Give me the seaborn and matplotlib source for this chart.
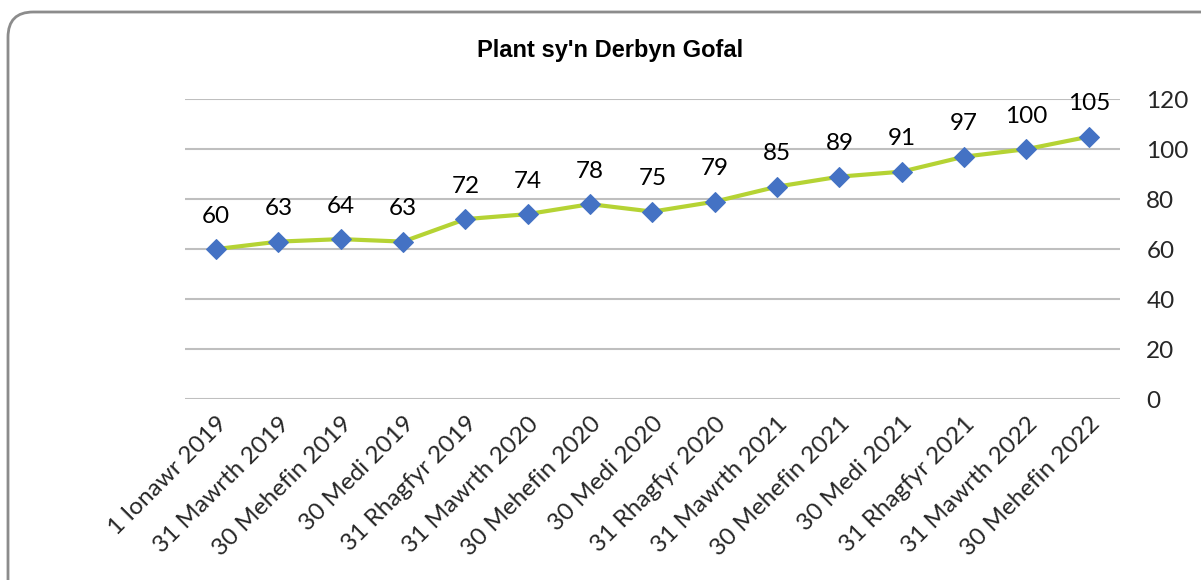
import matplotlib
matplotlib.use('Agg')
import matplotlib.pyplot as plt
from matplotlib.patches import FancyBboxPatch
import seaborn as sns
import pandas as pd

# Chart data
dates = ['1 Ionawr 2019', '31 Mawrth 2019', '30 Mehefin 2019', '30 Medi 2019',
         '31 Rhagfyr 2019', '31 Mawrth 2020', '30 Mehefin 2020', '30 Medi 2020',
         '31 Rhagfyr 2020', '31 Mawrth 2021', '30 Mehefin 2021', '30 Medi 2021',
         '31 Rhagfyr 2021', '31 Mawrth 2022', '30 Mehefin 2022']
children = [60, 63, 64, 63, 72, 74, 78, 75, 79, 85, 89, 91, 97, 100, 105]
y_ticks = [0, 20, 40, 60, 80, 100, 120]

df = pd.DataFrame({'pos': range(len(dates)), 'value': children})

sns.set_style('white')
plt.rcParams['font.family'] = ['Lato', 'DejaVu Sans']

fig = plt.figure(figsize=(12.01, 5.8), dpi=100)
ax = fig.add_axes([0.154, 0.312, 0.7785, 0.517])

# Rounded border of the chart area
border = FancyBboxPatch((8 / 1201, -0.05), 1.1, 1 - 12 / 580 + 0.05,
                        boxstyle='round,pad=0,rounding_size=0.021',
                        transform=fig.transFigure, fill=False,
                        edgecolor='#8c8c8c', linewidth=2, mutation_aspect=2.07)
fig.patches.append(border)

sns.lineplot(data=df, x='pos', y='value', ax=ax, color='#b5d334', linewidth=3,
             marker='D', markersize=10, markerfacecolor='#4472c4',
             markeredgecolor='#4472c4', zorder=3)

for x, v in zip(df['pos'], df['value']):
    ax.annotate(str(v), (x, v), xytext=(0, 19), textcoords='offset points',
                ha='center', va='baseline', fontsize=17.5, color='#000000')

ax.set_xlim(-0.5, len(dates) - 0.5)
ax.set_ylim(0, 120)
ax.set_yticks(y_ticks)
ax.yaxis.tick_right()
ax.tick_params(axis='y', length=0, pad=19, labelsize=17.5)
ax.set_xticks(range(len(dates)))
ax.set_xticklabels(dates, rotation=45, ha='right', rotation_mode='anchor', fontsize=17.5)
ax.tick_params(axis='x', length=0, pad=10)
ax.grid(axis='y', color='#bfbfbf', linewidth=1.5)
ax.set_axisbelow(True)
for s in ax.spines.values():
    s.set_visible(False)
ax.set_xlabel('')
ax.set_ylabel('')

fig.text(0.508, 0.913, "Plant sy'n Derbyn Gofal", ha='center', va='center',
         fontsize=17, fontweight='bold', family='Liberation Sans', color='#000000')

fig.savefig('out.png', dpi=100)
